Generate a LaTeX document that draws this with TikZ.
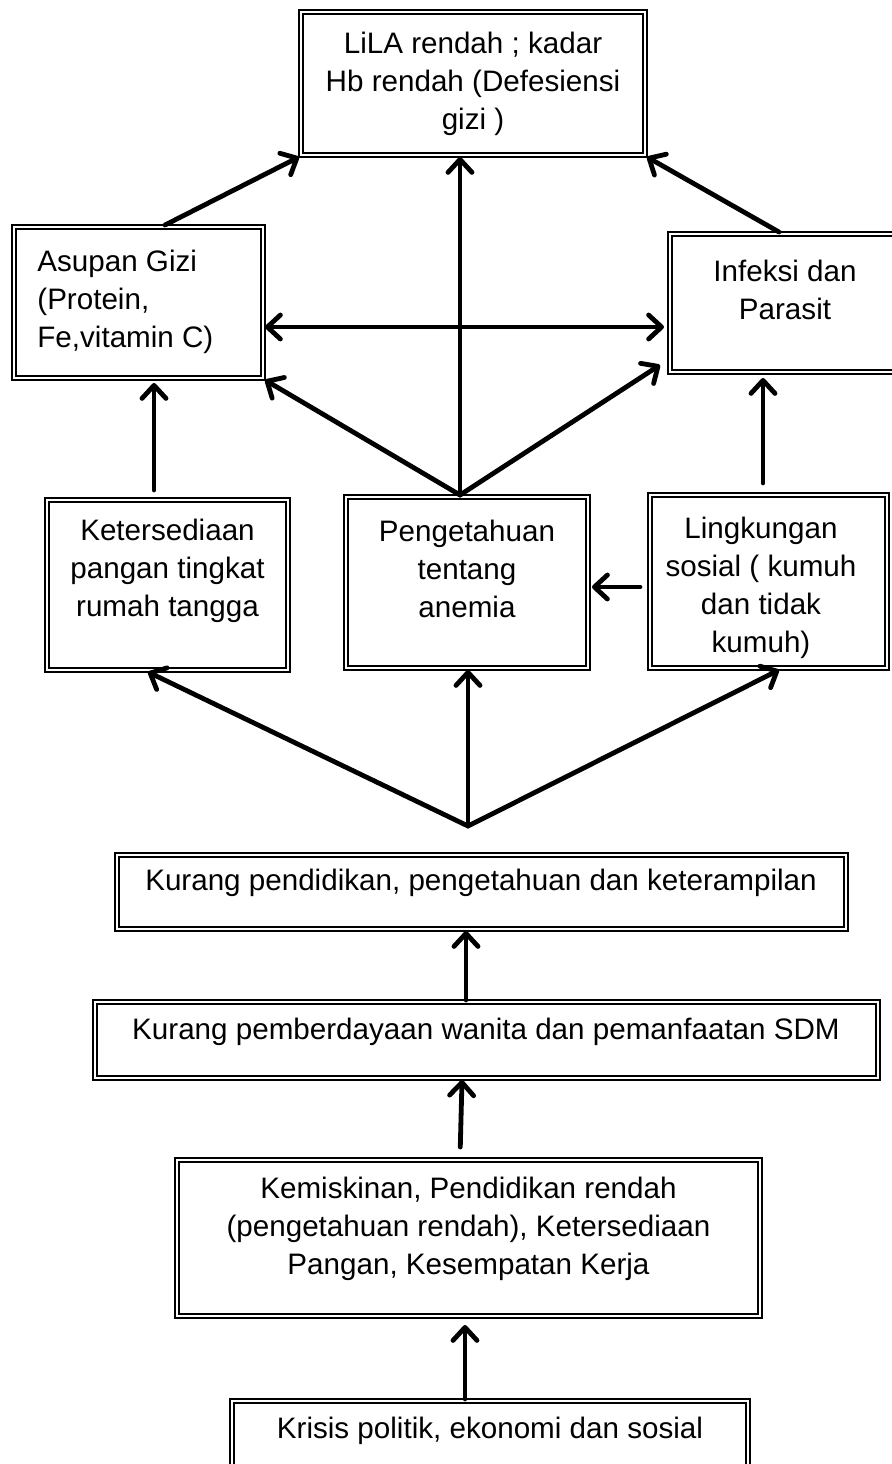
\documentclass[tikz,border=0pt]{standalone}
\usepackage{fontspec}
\setmainfont{Liberation Sans}
\usetikzlibrary{arrows.meta,fit,calc}
\begin{document}
\begin{tikzpicture}[x=0.5pt,y=-0.5pt,
  box/.style={draw, line width=1.4pt, inner sep=0pt, outer sep=0pt},
  inbox/.style={line width=0.6pt},
  txt/.style={inner sep=0pt, align=center, font=\fontsize{14.8pt}{19pt}\selectfont},
  arr/.style={line width=2.4pt, line cap=round, ->},
  >={Straight Barb[length=6.5pt,width=12pt,line width=2.4pt,round]}]
\useasboundingbox (0,0) rectangle (892,1464);
\clip (0,0) rectangle (892,1464);
% boxes
\node[box, fit={(299,10) (647,157)}] (top) {};
\node[box, fit={(12,225) (265,380)}] (asu) {};
\node[box, fit={(668,232) (903,374)}] (inf) {};
\node[box, fit={(45,498) (290,672)}] (ket) {};
\node[box, fit={(344,495) (590,670)}] (pen) {};
\node[box, fit={(648,493) (889,670)}] (lin) {};
\node[box, fit={(115,853) (848,931)}] (kpd) {};
\node[box, fit={(93,1000) (880,1080)}] (kpm) {};
\node[box, fit={(175,1158) (762,1318)}] (kem) {};
\node[box, fit={(230,1399) (750,1480)}] (kri) {};
\foreach \n in {top,asu,inf,ket,pen,lin,kpd,kpm,kem,kri}
  \draw[inbox] ([shift={(2pt,-2pt)}]\n.north west) rectangle ([shift={(-2pt,2pt)}]\n.south east);
% texts
\node[txt] (ttop) at (473,83.5) {LiLA rendah ; kadar\\Hb rendah (Defesiensi\\gizi )};
\node[txt, align=left, anchor=west] (tasu) at (37,301.5) {Asupan Gizi\\(Protein,\\Fe,vitamin C)};
\node[txt] (tinf) at (785,290) {Infeksi dan\\Parasit};
\node[txt] (tket) at (167.5,571) {Ketersediaan\\pangan tingkat\\rumah tangga};
\node[txt] (tpen) at (467,569) {Pengetahuan\\tentang\\anemia};
\node[txt] (tlin) at (761,588) {Lingkungan\\sosial ( kumuh\\dan tidak\\kumuh)};
\node[txt] (tkpd) at (481,883) {Kurang pendidikan, pengetahuan dan keterampilan};
\node[txt] (tkpm) at (486,1032) {Kurang pemberdayaan wanita dan pemanfaatan SDM};
\node[txt] (tkem) at (468.5,1229) {Kemiskinan, Pendidikan rendah\\(pengetahuan rendah), Ketersediaan\\Pangan, Kesempatan Kerja};
\node[txt] (tkri) at (490,1431) {Krisis politik, ekonomi dan sosial};
% junctions
\coordinate (jtop) at (460,495);
\coordinate (jbot) at (468,826);
% connectors
\draw[arr] (165,0 |- asu.north) -- (top.south west);
\draw[arr] (779,0 |- inf.north) -- (top.south east);
\draw[arr] (jtop) -- (460,0 |- top.south);
\draw[arr] (jtop) -- (asu.south east);
\draw[arr] (jtop) -- ([shift={(-4pt,4.5pt)}]inf.south west);
\draw[arr, <->] (asu.east |- 0,327) -- ([xshift=-2pt]inf.west |- 0,327);
\draw[arr, shorten <=4pt] (154,0 |- ket.north) -- ([yshift=-1.5pt]154,0 |- asu.south);
\draw[arr, shorten <=5pt] (763,0 |- lin.north) -- ([yshift=-2pt]763,0 |- inf.south);
\draw[arr, shorten <=4pt] (lin.west |- 0,587) -- ([xshift=1pt]pen.east |- 0,587);
\draw[arr] (jbot) -- (148,0 |- ket.south);
\draw[arr] (jbot) -- (jbot |- pen.south);
\draw[arr] (jbot) -- (779,0 |- lin.south);
\draw[arr] (466,0 |- kpm.north) -- (466,0 |- kpd.south);
\draw[arr, shorten <=5.5pt] (460,0 |- kem.north) -- (462,0 |- kpm.south);
\draw[arr, shorten >=3.5pt] (465,0 |- kri.north) -- (465,0 |- kem.south);
\end{tikzpicture}
\end{document}
